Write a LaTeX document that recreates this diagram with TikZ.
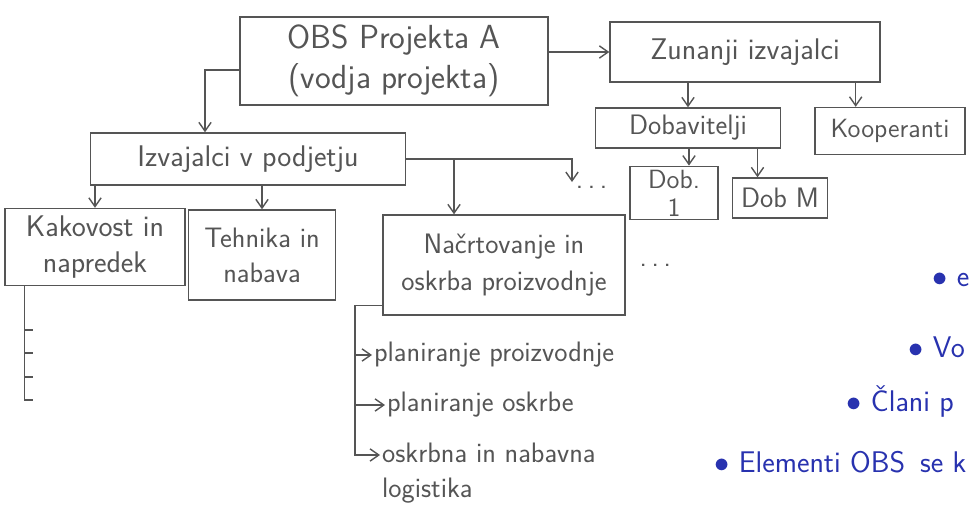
\documentclass[tikz,border=0pt]{standalone}
\usepackage{tikz}
\usetikzlibrary{arrows.meta}

\definecolor{pencil}{RGB}{85,85,85}
\definecolor{pen}{RGB}{40,50,175}
\tikzset{
  box/.style={draw=pencil, thick, align=center, inner sep=2pt, text=pencil},
  line/.style={draw=pencil, thick},
  arr/.style={->, draw=pencil, thick},
  item/.style={anchor=west, text=pencil, align=left, inner sep=1pt, font=\sffamily\fontsize{16}{20}\selectfont},
  dots/.style={anchor=west, text=pencil, inner sep=2pt, font=\sffamily\fontsize{16}{19}\selectfont},
  note/.style={anchor=west, text=pen, inner sep=0pt, font=\sffamily\fontsize{17}{20}\selectfont},
}

\begin{document}
\begin{tikzpicture}[x=0.02cm, y=-0.02cm, >={Straight Barb[length=5pt,width=7pt]}]
        \useasboundingbox[fill=white] (0,0) rectangle (970,517);
        % top level
        \node[box, minimum width=6.16cm, minimum height=1.76cm, font=\sffamily\fontsize{19}{23}\selectfont] (obs) at (394,61) {OBS Projekta A\\(vodja projekta)};
        \node[box, minimum width=5.4cm, minimum height=1.2cm, font=\sffamily\fontsize{17}{20}\selectfont] (zun) at (745,52) {Zunanji izvajalci};
        \node[box, minimum width=3.7cm, minimum height=0.8cm, font=\sffamily\fontsize{16}{19}\selectfont] (dobav) at (688,128) {Dobavitelji};
        \node[box, minimum width=3.0cm, minimum height=0.94cm, font=\sffamily\fontsize{15}{18}\selectfont] (koop) at (890,131) {Kooperanti};
        \node[box, minimum width=6.3cm, minimum height=1.04cm, font=\sffamily\fontsize{17}{20}\selectfont] (izv) at (248,159) {Izvajalci v podjetju};
        \node[box, minimum width=1.76cm, minimum height=1.0cm, font=\sffamily\fontsize{15}{16}\selectfont] (dob1) at (674,193) {Dob.\\1};
        \node[box, minimum width=1.9cm, minimum height=0.8cm, font=\sffamily\fontsize{16}{19}\selectfont] (dobm) at (780,198) {Dob M};
        % departments
        \node[box, minimum width=3.6cm, minimum height=1.54cm, font=\sffamily\fontsize{17}{20}\selectfont] (kak) at (95,247) {Kakovost in\\napredek};
        \node[box, minimum width=2.94cm, minimum height=1.8cm, font=\sffamily\fontsize{16}{20}\selectfont] (teh) at (262,255) {Tehnika in\\nabava};
        \node[box, minimum width=4.84cm, minimum height=2.0cm, font=\sffamily\fontsize{16}{21}\selectfont] (nac) at (504,265) {Načrtovanje in\\oskrba proizvodnje};
        \node[dots] (more2) at ([xshift=0.2cm]nac.east) {.\,.\,.};

        % connectors
        \draw[arr] (obs.east |- zun.west) -- (zun.west);
        \draw[arr] (zun.south -| dobav.north) -- (dobav.north);
        \draw[arr] ([xshift=-0.5cm]zun.south east) -- ([xshift=-0.5cm]zun.south east |- koop.north);
        \draw[arr] ([yshift=-0.18cm]obs.west) -| ([xshift=-0.86cm]izv.north);
        \draw[arr] (izv.south -| kak.north) -- (kak.north);
        \draw[arr] (izv.south -| teh.north) -- (teh.north);
        \draw[arr] (izv.east) -| ([xshift=-1cm]nac.north);
        \coordinate (c1) at (572,182);
        \draw[arr] (izv.east) -| (c1);
        \node[dots] (more1) at ([yshift=-0.1cm]c1) {.\,.\,.};
        \draw[arr] (dobav.south -| dob1.north) ++(0.3cm,0) -- ([xshift=0.3cm]dob1.north);
        \draw[arr] ([xshift=-0.45cm]dobav.south -| dobm.north) -- ([xshift=-0.45cm]dobm.north);

        % Kakovost sub items
        \draw[line] ([xshift=0.4cm]kak.south west) -- ++(0,115);
        \foreach \y in {330,353,377,400}
            \draw[line] (25,\y) -- (33,\y);

        % Nacrtovanje sub items
        \node[item] (p1) at (372,355) {planiranje proizvodnje};
        \node[item] (p2) at (385,405) {planiranje oskrbe};
        \node[item, anchor=north west] (p3) at (380,441) {oskrbna in nabavna\\logistika};
        \coordinate (trunk) at (355,310);
        \draw[arr] ([yshift=0.2cm]nac.south west) -| (trunk |- p1.west) -- (p1.west);
        \draw[arr] (trunk |- p1.west) |- (p2.west);
        \draw[arr] (trunk |- p2.west) |- ([yshift=-0.28cm]p3.north west);

        % notes in pen
        \node[note] (n1) at (932,280) {$\bullet$ e};
        \node[note] (n2) at (908,347) {$\bullet$ Vo};
        \node[note] (n3) at (846,402) {$\bullet$ Člani p};
        \node[note] (n4) at (714,462) {$\bullet$ Elementi OBS\enspace se k};
    \end{tikzpicture}
\end{document}
